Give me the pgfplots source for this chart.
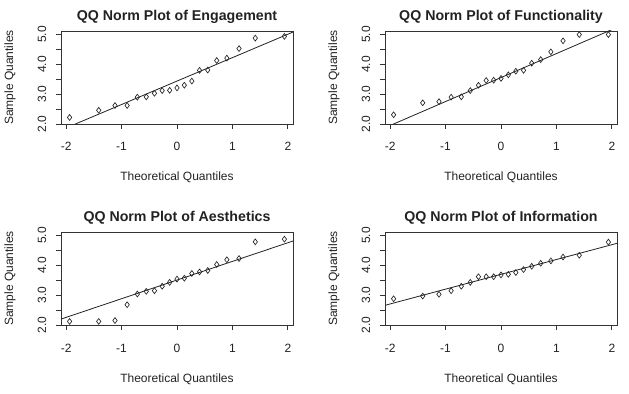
\documentclass[border=0pt]{standalone}
\usepackage{fontspec}
\setmainfont{Liberation Sans}
\usepackage{pgfplots}
\usepackage{pgfplotstable}
\pgfplotsset{compat=1.18}

\definecolor{ink}{HTML}{222222}
\definecolor{linecol}{HTML}{333333}

% theoretical normal quantiles (n = 19) and sorted sample scores
\pgfplotstableread{
x        eng   fun   aes   inf
-1.9379  2.22  2.31  2.12  2.88
-1.4124  2.46  2.71  2.12  2.97
-1.1191  2.62  2.75  2.15  3.03
-0.8996  2.62  2.90  2.68  3.15
-0.7164  2.90  2.91  3.04  3.30
-0.5546  2.91  3.12  3.13  3.43
-0.4067  3.03  3.30  3.15  3.62
-0.2675  3.12  3.46  3.30  3.62
-0.1323  3.13  3.47  3.43  3.62
 0.0000  3.21  3.53  3.54  3.68
 0.1323  3.30  3.65  3.57  3.70
 0.2675  3.44  3.77  3.73  3.76
 0.4067  3.80  3.80  3.78  3.86
 0.5546  3.81  4.04  3.83  3.97
 0.7164  4.13  4.16  4.03  4.07
 0.8996  4.21  4.42  4.19  4.15
 1.1191  4.53  4.79  4.23  4.28
 1.4124  4.88  5.00  4.79  4.34
 1.9379  4.94  5.00  4.88  4.78
}\qqdata

\newcommand{\lblfont}{\fontsize{12bp}{12bp}\selectfont}

\pgfplotsset{
  qq/.style={
    scale only axis, width=232bp, height=93bp,
    anchor=south west,
    xmin=-2.093, xmax=2.093, ymin=2.0, ymax=5.12,
    clip=true,
    xtick={-2,-1,0,1,2}, xticklabels={-2,-1,0,1,2},
    ytick={2,2.5,3,3.5,4,4.5,5}, yticklabels={2.0,,3.0,,4.0,,5.0},
    xtick pos=left, ytick pos=left, tick align=outside,
    major tick length=5bp,
    axis line style={draw=linecol, line width=0.8bp},
    every tick/.style={draw=linecol, line width=0.8bp},
    xticklabel style={font=\lblfont, text=ink, anchor=base, yshift=-22bp},
    yticklabel style={font=\lblfont, text=ink, anchor=center, xshift=-14bp, rotate=90},
    every axis title/.style={font=\fontsize{14.2bp}{14bp}\selectfont\bfseries, text=ink,
                 at={(axis description cs:0.5,1)}, anchor=base, yshift=10.5bp},
    every axis x label/.style={font=\lblfont, text=ink,
                 at={(axis description cs:0.5,0)}, anchor=base, yshift=-57bp},
    every axis y label/.style={font=\lblfont, text=ink,
                 at={(axis description cs:0,0.5)}, anchor=center, xshift=-51bp, rotate=90},
    xlabel={Theoretical Quantiles}, ylabel={Sample Quantiles},
  },
  qqpts/.style={only marks, mark=diamond, mark size=2.9bp,
                mark options={draw=ink, fill=none, line width=0.65bp}},
  qqline/.style={draw=ink, line width=0.8bp, no marks},
}

\begin{document}
\begin{tikzpicture}
\useasboundingbox (0,0) rectangle (629bp,394bp);

\begin{axis}[qq, at={(61bp,270bp)}, title={QQ Norm Plot of Engagement}]
  \addplot[qqpts] table[x=x, y=eng] {\qqdata};
  \addplot[qqline] coordinates {(-2.093,1.795) (2.093,5.085)};
\end{axis}

\begin{axis}[qq, at={(385bp,270bp)}, title={QQ Norm Plot of Functionality}]
  \addplot[qqpts] table[x=x, y=fun] {\qqdata};
  \addplot[qqline] coordinates {(-2.093,1.875) (2.093,5.241)};
\end{axis}

\begin{axis}[qq, at={(61bp,69bp)}, title={QQ Norm Plot of Aesthetics}]
  \addplot[qqpts] table[x=x, y=aes] {\qqdata};
  \addplot[qqline] coordinates {(-2.093,2.198) (2.093,4.818)};
\end{axis}

\begin{axis}[qq, at={(385bp,69bp)}, title={QQ Norm Plot of Information}]
  \addplot[qqpts] table[x=x, y=inf] {\qqdata};
  \addplot[qqline] coordinates {(-2.093,2.66) (2.093,4.74)};
\end{axis}

\end{tikzpicture}
\end{document}
